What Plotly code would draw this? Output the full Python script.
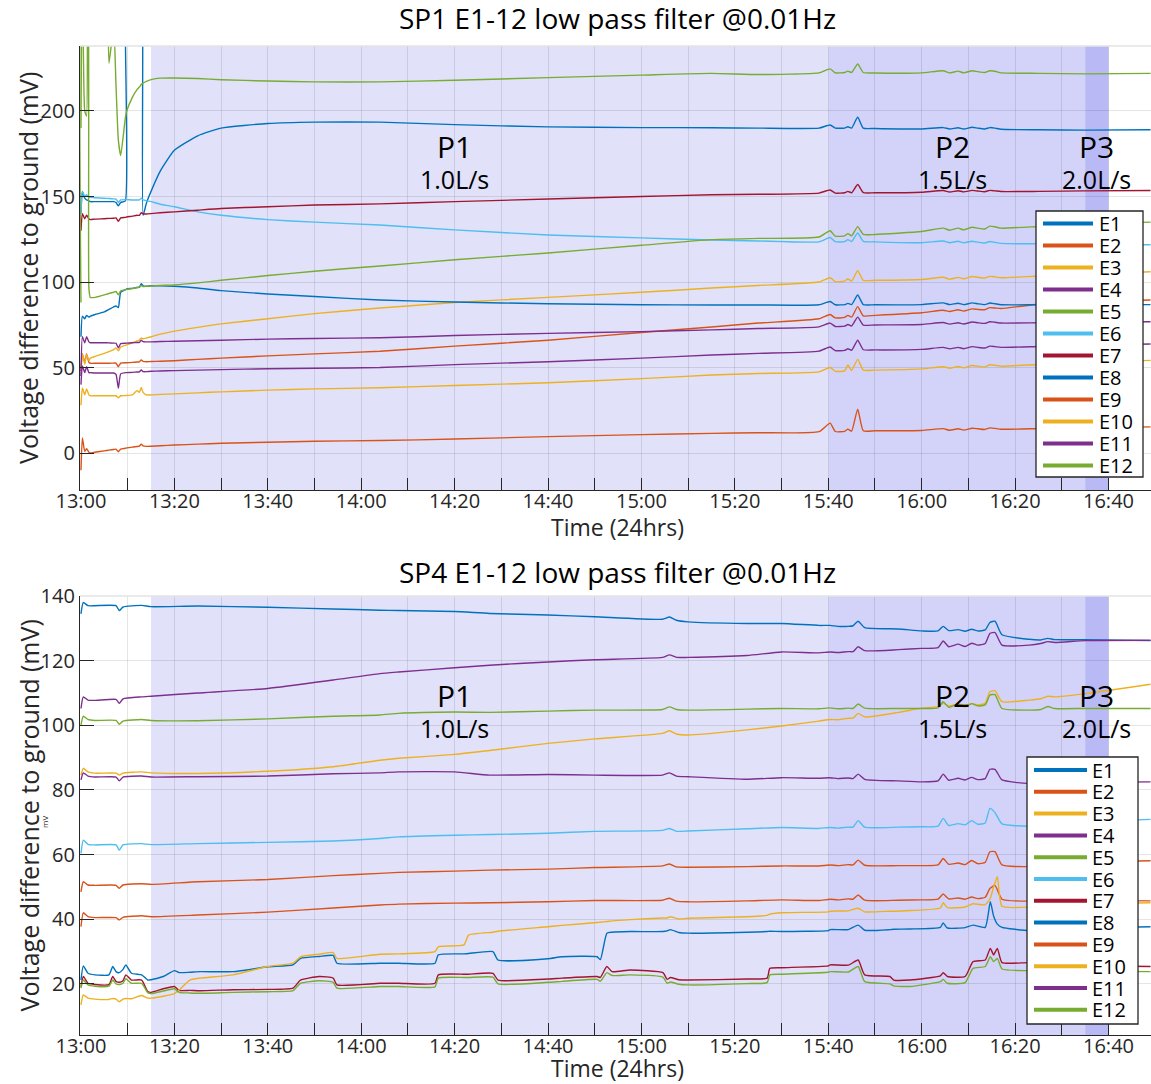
import pandas as pd
import plotly.graph_objects as go

# ---------------- SP1: sample times (minutes after 13:00) and potentials (mV) ----------------
SP1_T = [0, 0.3, 0.8, 1.2, 1.7, 2, 3, 5, 6, 7,
         7.5, 8, 8.5, 9.5, 9.8, 11, 12, 12.5, 12.9, 13.3,
         14, 15, 17, 20, 25, 30, 40, 50, 64, 80,
         100, 120, 135, 145, 158, 160.4, 161.5, 163.5, 164.2, 165,
         166.3, 167.5, 170, 180, 184.6, 186, 187.8, 189, 190.8, 192,
         193.5, 194.6, 195.7, 197, 205, 215, 229]

SP1_E1 = [140, 153, 149, 148, 147.5, 147, 147, 147, 147, 147,
          146.5, 144.5, 146.5, 147.5, 300, 300, 300, 300, 300, 139,
          146, 153, 165, 177, 185.5, 190, 192.7, 193.5, 193.5, 192,
          190.7, 190.3, 190.2, 190, 190, 191.8, 190, 190, 190.8, 190,
          196.3, 190, 189.8, 189.5, 190.3, 189.5, 190.2, 189.5, 190.5, 190,
          189.5, 190.3, 190, 189.3, 189, 188.8, 189]
SP1_E2 = [48, 58, 53, 58, 53, 52.5, 52.5, 52.5, 52.5, 52.6,
          52.6, 50.5, 52.6, 52.8, 52.8, 53, 53.2, 53.3, 54.5, 53.6,
          53.4, 53.5, 53.7, 54, 54.8, 55.5, 56.8, 58, 59.5, 62.5,
          66, 70.5, 73.7, 76, 78.5, 81, 79, 79.3, 80.5, 79.5,
          85.6, 80.2, 80.5, 82, 83.5, 82.8, 83.8, 83, 84.3, 84,
          83.8, 85, 84.8, 84.5, 87, 88.5, 89.5]
SP1_E3 = [50, 58, 52, 57.5, 54, 55.5, 56.5, 58.3, 59.3, 60.5,
          61.5, 59.8, 62, 63, 63.3, 64.5, 65.5, 66, 67.3, 66.8,
          67.2, 68, 69.5, 71.3, 73.5, 75.5, 78.5, 81.5, 84.8, 88,
          91, 94, 96.5, 98, 100, 102.5, 100.2, 100.5, 101.8, 100.6,
          106.6, 101, 101, 101.5, 102.8, 101.7, 102.7, 101.9, 103.2, 102.8,
          102.3, 103.3, 103, 102.5, 103.5, 104.5, 106]
SP1_E4 = [45, 68, 64.5, 68, 65, 64.5, 64.5, 64.5, 64.4, 64.3,
          64.2, 61.5, 64, 64.2, 64.3, 64.5, 64.6, 64.7, 66, 65.1,
          65, 65, 65.2, 65.4, 65.7, 66, 66.6, 67, 67.4, 68.7,
          70, 71, 72, 72.8, 73.8, 76, 74, 74.2, 75.2, 74.3,
          79.5, 74.8, 74.9, 75.2, 76.3, 75.4, 76.2, 75.5, 76.6, 76.2,
          75.8, 76.8, 76.5, 76, 76.2, 76.5, 76.8]
SP1_E5 = [190, 300, 200, 197, 300, 300, 300, 300, 228, 250,
          215, 183, 174, 196, 200, 208, 212.5, 214, 215.5, 216.3,
          217.3, 218.3, 219.2, 219.3, 219, 218.3, 217.5, 217, 217, 218,
          219.5, 221, 222, 221.3, 222.3, 224.6, 222.3, 222.5, 223.3, 222.5,
          227.5, 222.5, 222.2, 222.3, 223.5, 222.3, 223.3, 222.3, 223.5, 223,
          222.5, 223.5, 223.2, 222.3, 222, 221.7, 222]
SP1_E6 = [140, 153, 150, 151, 149.5, 149.5, 149.3, 149, 148.8, 148.6,
          148.5, 146.5, 148, 148.2, 148.2, 148, 148, 148, 149, 148,
          147.5, 147, 145.5, 144, 141, 139, 136.5, 135, 133.3, 130.5,
          127.5, 125.8, 124.6, 124, 123.5, 126, 123.6, 123.6, 124.8, 123.7,
          128.7, 123.8, 123.5, 123, 124, 123, 123.8, 122.9, 123.8, 123.3,
          122.8, 123.7, 123.2, 122.6, 122.3, 122, 121.8]
SP1_E7 = [130, 140, 137, 139, 137, 136.5, 136.8, 137, 137.2, 137.3,
          137.5, 135.5, 137.5, 137.8, 138, 138.5, 139, 139, 140.5, 139.8,
          139.8, 140, 140.5, 141, 142, 143, 144, 145, 145.7, 147,
          148.5, 150, 151, 151.3, 152, 153.8, 152, 152.2, 153, 152.2,
          157, 152.3, 152.2, 152.5, 153.5, 152.6, 153.4, 152.7, 153.6, 153.2,
          152.8, 153.6, 153.3, 152.9, 153, 153.3, 153.5]
SP1_E8 = [68, 80, 78.5, 80.5, 79.5, 80, 81, 82.5, 84, 85.5,
          86, 85, 94, 95.5, 96, 96.3, 96.8, 97, 99, 97.8,
          97.6, 97.8, 97.8, 97.5, 96.5, 95, 93, 91.5, 89.5, 88.3,
          87.3, 86.7, 86.6, 86.6, 86.7, 88.6, 86.7, 86.8, 87.5, 86.8,
          92.4, 86.8, 86.7, 86.8, 87.8, 86.8, 87.6, 86.8, 87.8, 87.3,
          86.8, 87.7, 87.3, 86.7, 86.7, 86.7, 86.8]
SP1_E9 = [-10, 8.8, 1, 2.5, 0.5, 0, 0.5, 1.3, 1.7, 2.1,
          2.3, 0.8, 2.3, 2.8, 3, 3.5, 3.8, 4, 5.2, 4.2,
          3.9, 4, 4.3, 4.7, 5.2, 5.7, 6.3, 6.9, 7.3, 8.2,
          9.6, 10.8, 11.5, 11.9, 12.5, 17.5, 12.6, 12.7, 14, 12.8,
          25.7, 13, 13, 13.2, 14.3, 13.3, 14.2, 13.4, 14.5, 14.2,
          13.8, 14.7, 14.4, 13.9, 14.3, 14.8, 15.3]
SP1_E10 = [28, 38, 34, 37.5, 34, 33.5, 33.5, 33.5, 33.5, 33.5,
           33.5, 32.3, 33.5, 33.6, 33.7, 34, 36.5, 35.5, 38.3, 35.5,
           34, 34, 34.3, 34.6, 35.2, 35.8, 36.8, 37.5, 38.2, 39.5,
           41.1, 43.5, 45.6, 46.5, 47.5, 50, 47.8, 48, 51.5, 48.3,
           54.8, 48.5, 48.5, 49.2, 50.5, 49.6, 50.6, 49.8, 51.2, 50.8,
           50.4, 51.6, 51.3, 50.8, 51.8, 53, 54.2]
SP1_E11 = [40, 51, 47, 50.5, 47, 47, 46.8, 46.8, 46.8, 46.8,
           46, 38, 46.3, 47, 47, 47.2, 47.4, 47.5, 48.6, 47.6,
           47.6, 47.8, 48, 48.2, 48.5, 48.8, 49.3, 49.6, 50, 51.7,
           53.4, 55.5, 57.3, 58.3, 59.6, 62, 59.9, 60, 61, 60.1,
           66, 60.4, 60.3, 60.6, 61.8, 60.9, 61.8, 61, 62.2, 61.8,
           61.4, 62.5, 62.2, 61.8, 62.3, 63, 63.8]
SP1_E12 = [88, 300, 300, 300, 96, 91, 91, 92.5, 93.3, 94,
           94.5, 92.5, 94.8, 95.5, 95.7, 96.2, 96.8, 97, 98, 97.3,
           97.5, 97.7, 98, 98.3, 99.5, 101, 103.8, 106.3, 109.4, 113,
           117, 121.5, 124.8, 125.5, 126.3, 130, 126.8, 127, 128.3, 127,
           132.4, 127.8, 127.8, 129.5, 131.5, 130.3, 131.5, 130.5, 132, 131.5,
           131, 132.7, 132.3, 131.5, 132.5, 134, 135]

# ---------------- SP4: two sampling grids (minutes after 13:00) ----------------
# grid A: E1-E6, E9, E11
SP4_TA = [0, 0.5, 1.5, 3, 7.5, 8.2, 9, 13, 15, 25,
          40, 54, 64, 68, 80, 87.5, 100, 110, 124.5, 126,
          127.5, 130, 142.6, 150, 158, 160.4, 162, 164.3, 165.3, 166.4,
          167.8, 175, 180, 183.5, 184.6, 185.8, 187.8, 189.3, 190.7, 192,
          193.6, 194.6, 195.7, 197.2, 203, 205.5, 207, 208.5, 215, 229]
# grid B: E7, E8, E10, E12
SP4_TB = [0, 0.5, 1.5, 3, 6, 6.8, 7.5, 8.2, 9, 9.6,
          10.8, 13, 14.3, 15, 17.6, 20, 21, 23.3, 25.5, 32.6,
          40, 45.4, 47, 51, 54, 54.8, 64, 68, 75.8, 76.5,
          82, 83, 88.2, 89.3, 100, 103, 110.5, 111.2, 112.6, 113.7,
          117.6, 124.6, 125.5, 126.2, 128, 130, 142.6, 146.9, 147.5, 150,
          160, 160.4, 164.3, 166.4, 167.8, 173.2, 174, 177.5, 184, 184.6,
          185.5, 189.3, 191, 193.6, 194.7, 195.4, 196.2, 197.2, 203, 207,
          215, 229]

SP4_E1 = [134.5, 138, 137, 137, 137, 135.5, 136.6, 137.1, 136.7, 136.9,
          136.5, 136, 135.6, 135.5, 135.2, 134.6, 134.1, 133.6, 132.8, 133.5,
          132.5, 132, 131.5, 131.5, 130.9, 130.9, 130.6, 130.6, 130.8, 132.2,
          130.2, 129.8, 129.2, 129.2, 130.6, 129.3, 129.6, 129.1, 129.7, 129.2,
          129.5, 131.8, 132.2, 128, 126.6, 126.4, 126.9, 126.5, 126.5, 126.2]
SP4_E2 = [48.5, 51.6, 50.6, 50.5, 50.5, 49.6, 50.6, 51, 50.8, 51.6,
          52.3, 53.5, 54.2, 54.5, 54.9, 55.2, 55.5, 56, 56.5, 57.1,
          56.2, 56.1, 56.3, 56.5, 56.5, 56.8, 56.6, 56.9, 56.8, 58.3,
          56.7, 56.6, 56.6, 56.8, 58.8, 57, 57.4, 56.9, 58.2, 57.2,
          57.6, 60.9, 60.9, 56.8, 56.3, 56.8, 57.5, 57.2, 57.7, 58.1]
SP4_E3 = [84.6, 86.7, 85.6, 85.2, 85.2, 84.6, 85.2, 85.6, 85.3, 85.1,
          85.8, 87.2, 89.2, 89.8, 91, 92.2, 94.4, 95.8, 97.5, 98.3,
          97.3, 97, 98.6, 99.8, 101.3, 101.8, 101.7, 102.2, 102.2, 103.7,
          102.6, 104, 105.3, 105.8, 106.8, 106, 106.6, 106.2, 106.7, 106.3,
          106.8, 110.4, 110.7, 107.3, 107.8, 108.2, 109, 108.8, 109.8, 112.7]
SP4_E4 = [105.2, 108.8, 107.8, 107.7, 108, 106.8, 108.2, 108.8, 109, 110,
          111.4, 114, 116, 116.5, 117.8, 118.6, 119.6, 120.3, 121, 121.8,
          121, 121, 121.6, 122.7, 122.4, 122.7, 122.5, 122.8, 122.8, 124.3,
          123.1, 123.4, 123.8, 124, 126.1, 124.3, 125.1, 124.4, 125.4, 124.8,
          125.3, 128.4, 128.7, 124.8, 124.8, 125.3, 125.9, 125.6, 126.2, 126.3]
SP4_E5 = [100.1, 102.8, 101.8, 101.5, 101.5, 100.3, 101.3, 101.8, 101.5, 101.4,
          102, 102.8, 103.2, 103.7, 104.1, 104, 104.4, 104.7, 104.9, 105.7,
          104.9, 104.7, 105, 105.2, 105.1, 105.4, 105.1, 105.3, 105.2, 106.6,
          105.3, 105.2, 105.2, 105.4, 107.3, 105.6, 106.6, 105.7, 106.7, 106,
          106.3, 109.3, 109.5, 105.2, 104.7, 104.9, 105.8, 105.2, 105.2, 105.2]
SP4_E6 = [60.4, 64.5, 63.2, 63, 63, 61.4, 63, 63.4, 63.1, 63.4,
          63.8, 64.2, 65, 65.5, 66, 66.2, 66.6, 67.2, 67.5, 68.1,
          67.2, 67.3, 68, 68.4, 68.1, 68.4, 68.2, 68.5, 68.5, 70.5,
          68.5, 68.5, 68.6, 68.8, 71.2, 69, 69.6, 69.2, 70.5, 69.4,
          69.8, 74.3, 73, 69.5, 68.8, 69.2, 69.8, 69.5, 70.2, 70.9]
SP4_E9 = [37.7, 42, 40.8, 40.5, 40.5, 39.8, 40.6, 41.1, 40.8, 41.3,
          42.2, 43.5, 44.4, 44.7, 45, 45.1, 45.4, 45.8, 45.9, 46.5,
          45.6, 45.4, 45.7, 46, 45.8, 46.2, 46, 46.3, 46.2, 47.5,
          45.9, 45.9, 46, 46.2, 47.8, 46.3, 46.6, 46.2, 46.9, 46.4,
          46.8, 49.5, 50.5, 46.2, 45.6, 45.8, 46.2, 45.9, 45.8, 45.7]
SP4_E11 = [83.1, 85.3, 84.3, 84, 84, 82.8, 84, 84.3, 84, 84.1,
           84.3, 85, 85.3, 85.6, 85.6, 84.6, 84.8, 84.6, 84.6, 85.3,
           84.3, 84.1, 83.3, 83.8, 83.6, 83.8, 83.5, 83.7, 83.5, 84.9,
           83.3, 82.8, 82.5, 82.8, 84.9, 83, 83.6, 83.1, 83.9, 83.2,
           83.5, 86.4, 86.4, 83.1, 82, 82.2, 82.5, 82.3, 82.4, 82.5]

SP4_E7 = [19.2, 22.3, 20.2, 19.8, 19.8, 22.3, 20.8, 20.5, 21, 22.8,
          21.2, 21.2, 17.6, 17.4, 18.5, 19.2, 18, 18, 17.9, 18.2,
          18.3, 18.7, 21.2, 22.3, 21.8, 19.7, 20.2, 20.2, 20.2, 22.8,
          23, 23, 23.3, 21.2, 21.5, 21.8, 22.3, 22, 25.4, 23.8,
          24.3, 23.5, 21.4, 22, 21.3, 21.2, 21.5, 21.8, 24.8, 25,
          25.6, 25.9, 25.8, 27.4, 22.8, 22.3, 21.2, 21.2, 22.5, 23.5,
          22.3, 22.3, 26.9, 27.4, 31, 29, 31, 26.6, 26.6, 26,
          25.6, 25.4]
SP4_E8 = [21.2, 25.6, 23.3, 22.8, 22.8, 25.4, 23.8, 23.5, 24.5, 25.9,
          23.3, 22.8, 21.2, 21.3, 22.3, 24.1, 23.5, 23.6, 23.8, 23.8,
          25.3, 25.9, 27.9, 28.5, 28.8, 26.4, 26.4, 26.4, 26.4, 29,
          29.3, 29.4, 30, 27.4, 27.8, 28.4, 28.4, 27.5, 35.7, 36,
          36.2, 36.2, 36.4, 36.8, 35.9, 35.7, 36, 36.2, 36.3, 36.2,
          36.5, 36.8, 36.8, 38.2, 36.6, 36.8, 36.9, 37, 37.5, 38.9,
          37.3, 37.4, 38.2, 37.5, 45.4, 41, 38.5, 37.5, 36.5, 37,
          37.3, 37.7]
SP4_E10 = [13.5, 16.6, 15.6, 15.3, 15.2, 15.5, 15.3, 14.5, 15.3, 15.5,
           15.4, 16.4, 15.6, 15.6, 16.2, 17, 18.1, 21.2, 21.8, 22.8,
           25.4, 26.4, 28.4, 29.2, 29.7, 27.9, 29.2, 29.3, 30, 31.5,
           32.1, 35.1, 36, 36.3, 37.7, 38.1, 39, 39.1, 39.3, 39.5,
           39.9, 40.4, 40.4, 40.8, 40.1, 40.3, 40.8, 41.2, 41.6, 42,
           42.3, 42.5, 42.6, 43.4, 42.3, 42.5, 42.5, 42.7, 43.5, 45.1,
           43.6, 43.8, 44.8, 44.5, 46.5, 50, 53.2, 44, 43.8, 44.3,
           44.7, 45.1]
SP4_E12 = [18.7, 21.2, 19.7, 19.3, 19.3, 21.2, 20, 19.8, 20.2, 21.6,
           20.2, 20.2, 17.3, 17, 17.8, 18.5, 17.4, 17.2, 17.1, 17.4,
           17.6, 17.9, 20.2, 21, 20.5, 18.7, 19.2, 19.2, 19.1, 21.8,
           22, 22, 22.1, 20, 20.5, 20.8, 21.4, 20.8, 23.5, 22.6,
           22.8, 22.1, 20.2, 20.6, 19.9, 19.7, 20.1, 20.4, 22.8, 23,
           23.6, 23.8, 23.7, 25.4, 20.7, 20, 19.4, 19.2, 20.7, 21.4,
           20.2, 20.4, 24.8, 25.4, 28.4, 26.9, 27.9, 24.6, 24.1, 24,
           23.9, 23.8]

ELECTRODES = ["E1", "E2", "E3", "E4", "E5", "E6", "E7", "E8", "E9", "E10", "E11", "E12"]
COLORS = ["#0072BD", "#D95319", "#EDB120", "#7E2F8E", "#77AC30", "#4DBEEE", "#A2142F",
          "#0072BD", "#D95319", "#EDB120", "#7E2F8E", "#77AC30"]

SP1_SERIES = [SP1_E1, SP1_E2, SP1_E3, SP1_E4, SP1_E5, SP1_E6,
              SP1_E7, SP1_E8, SP1_E9, SP1_E10, SP1_E11, SP1_E12]
SP1_TIMES = [SP1_T] * 12
SP4_SERIES = [SP4_E1, SP4_E2, SP4_E3, SP4_E4, SP4_E5, SP4_E6,
              SP4_E7, SP4_E8, SP4_E9, SP4_E10, SP4_E11, SP4_E12]
SP4_TIMES = [SP4_TA, SP4_TA, SP4_TA, SP4_TA, SP4_TA, SP4_TA,
             SP4_TB, SP4_TB, SP4_TA, SP4_TB, SP4_TA, SP4_TB]

# flow phases: label, flow rate, start / end (min after 13:00), label position (min)
PHASES = [("P1", "1.0L/s", 15, 160, 80),
          ("P2", "1.5L/s", 160, 215, 186.5),
          ("P3", "2.0L/s", 215, 220, 217.5)]
PHASE_FILL = ["#E1E1FA", "#D3D3FA", "#B9B9F6"]

BASE = pd.Timestamp("2000-01-01 13:00")


def at(minutes):
    return BASE + pd.to_timedelta(minutes, unit="min")


def times(seq):
    return [at(m) for m in seq]


W, H = 1151, 1084
FONT = "Open Sans"
INK = "#262626"


def px_x(x):
    return x / W


def px_y(y):
    return 1 - y / H


fig = go.Figure()

panels = [
    dict(xa="x", ya="y", xn="xaxis", yn="yaxis",
         series=SP1_SERIES, tms=SP1_TIMES,
         title="SP1 E1-12 low pass filter @0.01Hz", top=46, bottom=490,
         yrange=[-21.6, 238], dtick=50, title_y=18, xt_y=527,
         legend_box=(1036, 211, 1143, 477), legend_line=(1043, 1093), legend_text=1097,
         legend_y0=223.5, legend_step=22.0),
    dict(xa="x2", ya="y2", xn="xaxis2", yn="yaxis2",
         series=SP4_SERIES, tms=SP4_TIMES,
         title="SP4 E1-12 low pass filter @0.01Hz", top=596, bottom=1035,
         yrange=[4.2, 140], dtick=20, title_y=572, xt_y=1068,
         legend_box=(1027, 757, 1138, 1024), legend_line=(1034, 1087), legend_text=1090,
         legend_y0=770, legend_step=21.8),
]

shapes = []
annotations = []

for p in panels:
    # data lines
    for name, col, tm, vals in zip(ELECTRODES, COLORS, p["tms"], p["series"]):
        assert len(tm) == len(vals), name
        fig.add_trace(go.Scatter(x=times(tm), y=vals, mode="lines", name=name,
                                 line=dict(color=col, width=1.4, shape="spline", smoothing=0.5),
                                 xaxis=p["xa"], yaxis=p["ya"], showlegend=False,
                                 hoverinfo="skip"))

    # shaded flow phases with their labels
    for (lab, rate, t0, t1, tl), fill in zip(PHASES, PHASE_FILL):
        shapes.append(dict(type="rect", xref=p["xa"], yref=p["ya"] + " domain",
                           x0=at(t0), x1=at(t1), y0=0, y1=1, fillcolor=fill,
                           line=dict(width=0), layer="below"))
        annotations.append(dict(xref=p["xa"], yref=p["ya"] + " domain", x=at(tl), y=0.773,
                                text=lab, showarrow=False, xanchor="center", yanchor="middle",
                                font=dict(size=30, color="black", family=FONT)))
        annotations.append(dict(xref=p["xa"], yref=p["ya"] + " domain", x=at(tl), y=0.700,
                                text=rate, showarrow=False, xanchor="center", yanchor="middle",
                                font=dict(size=25, color="black", family=FONT)))
    # faint top frame line
    shapes.append(dict(type="line", xref=p["xa"] + " domain", yref=p["ya"] + " domain",
                       x0=0, x1=1, y0=1, y1=1, line=dict(color="#e3e3e3", width=1.5)))

    # titles
    annotations.append(dict(xref="paper", yref="paper", x=px_x(617), y=px_y(p["title_y"]),
                            text=p["title"], showarrow=False, xanchor="center", yanchor="middle",
                            font=dict(size=28, color="black", family=FONT)))
    annotations.append(dict(xref="paper", yref="paper", x=px_x(617), y=px_y(p["xt_y"]),
                            text="Time (24hrs)", showarrow=False, xanchor="center", yanchor="middle",
                            font=dict(size=23, color=INK, family=FONT)))
    mid = (p["top"] + p["bottom"]) / 2
    annotations.append(dict(xref="paper", yref="paper", x=px_x(28), y=px_y(mid),
                            text="Voltage difference to ground (mV)", textangle=-90,
                            showarrow=False, xanchor="center", yanchor="middle",
                            font=dict(size=25, color=INK, family=FONT)))

    # legend box drawn from the electrode names and colours
    bx0, by0, bx1, by1 = p["legend_box"]
    shapes.append(dict(type="rect", xref="paper", yref="paper",
                       x0=px_x(bx0), x1=px_x(bx1), y0=px_y(by1), y1=px_y(by0),
                       fillcolor="white", line=dict(color=INK, width=1.3), layer="above"))
    lx0, lx1 = p["legend_line"]
    for i, (name, col) in enumerate(zip(ELECTRODES, COLORS)):
        yy = p["legend_y0"] + i * p["legend_step"]
        shapes.append(dict(type="line", xref="paper", yref="paper",
                           x0=px_x(lx0), x1=px_x(lx1), y0=px_y(yy), y1=px_y(yy),
                           line=dict(color=col, width=4), layer="above"))
        annotations.append(dict(xref="paper", yref="paper", x=px_x(p["legend_text"]), y=px_y(yy),
                                text=name, showarrow=False, xanchor="left", yanchor="middle",
                                font=dict(size=20, color="black", family=FONT)))

    dom_y = [px_y(p["bottom"]), px_y(p["top"])]
    fig.layout[p["xn"]] = dict(
        domain=[px_x(80), 1], anchor=p["ya"], type="date", automargin=False,
        range=[at(-0.21), at(229.1)],
        tick0=at(0), dtick=20 * 60 * 1000, tickformat="%H:%M",
        ticks="inside", ticklen=12, tickcolor=INK, tickwidth=1,
        ticklabelstandoff=-7,
        showline=True, linecolor=INK, linewidth=1.2,
        showgrid=True, gridcolor="rgba(0,0,0,0.10)", gridwidth=1,
        minor=dict(dtick=10 * 60 * 1000, ticks="inside", ticklen=12, tickcolor=INK,
                   showgrid=True, gridcolor="rgba(0,0,0,0.10)"),
        tickfont=dict(size=20, color=INK, family=FONT), zeroline=False,
    )
    fig.layout[p["yn"]] = dict(
        domain=dom_y, anchor=p["xa"], range=p["yrange"], dtick=p["dtick"], tick0=0,
        automargin=False,
        ticks="inside", ticklen=14, tickcolor=INK, tickwidth=1,
        showline=True, linecolor=INK, linewidth=1.2,
        showgrid=True, gridcolor="rgba(0,0,0,0.10)", zeroline=False,
        tickfont=dict(size=20, color=INK, family=FONT),
    )

# small unit marker beside the lower y-axis title
annotations.append(dict(xref="paper", yref="paper", x=px_x(44), y=px_y(822), text="mV",
                        textangle=-90, showarrow=False, xanchor="center", yanchor="middle",
                        font=dict(size=8, color=INK, family=FONT)))

fig.update_layout(
    width=W, height=H, margin=dict(l=0, r=0, t=0, b=0, autoexpand=False),
    paper_bgcolor="white", plot_bgcolor="white", showlegend=False,
    font=dict(family=FONT, color=INK),
    shapes=shapes, annotations=annotations,
)

fig.write_html("out.html")
